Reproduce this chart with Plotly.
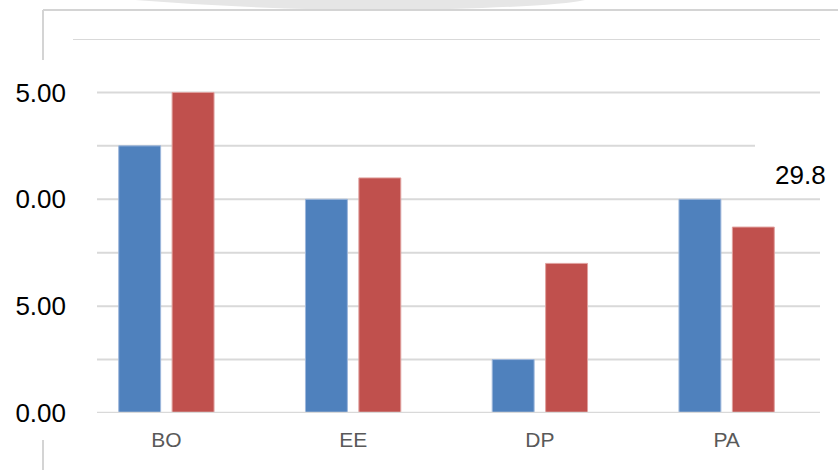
import plotly.graph_objects as go

categories = ["BO", "EE", "DP", "PA"]
series_blue = [12.5, 10.0, 2.5, 10.0]
series_red = [15.0, 11.0, 7.0, 8.7]
ytick_vals = [0, 2.5, 5, 7.5, 10, 12.5, 15]
ytick_text = ["0.00", "", "5.00", "", "0.00", "", "5.00"]
grid_vals = [2.5, 5, 7.5, 10, 12.5, 15]
extra_label = "29.8"

W, H = 838, 470
L, R, T, B = 73, 18, 39, 57
PW, PH = W - L - R, H - T - B


def px(x):
    return (x - L) / PW


def py(y):
    return (H - B - y) / PH


BLUE = "#4F81BD"
RED = "#C0504D"
GRID = "#d9d9d9"

fig = go.Figure()
fig.add_trace(go.Bar(x=categories, y=series_blue, marker=dict(color=BLUE, line=dict(color="#9db7dc", width=1)),
                     showlegend=False, hoverinfo="skip"))
fig.add_trace(go.Bar(x=categories, y=series_red, marker=dict(color=RED, line=dict(color="#e0a09e", width=1)),
                     showlegend=False, hoverinfo="skip"))

shapes = []
# top decorative shadow
shapes.append(dict(type="path", xref="paper", yref="paper",
                   path=f"M {px(135)},{py(0)} Q {px(300)},{py(13)} {px(450)},{py(9)} Q {px(560)},{py(6)} {px(585)},{py(0)} Z",
                   fillcolor="#e6e6e6", line=dict(width=0), layer="below"))
# frame lines
shapes.append(dict(type="line", xref="paper", yref="paper", x0=px(43), x1=px(838), y0=py(10), y1=py(10),
                   line=dict(color="#d4d4d4", width=2)))
shapes.append(dict(type="line", xref="paper", yref="paper", x0=px(43), x1=px(43), y0=py(10), y1=py(60),
                   line=dict(color="#d4d4d4", width=2)))
shapes.append(dict(type="line", xref="paper", yref="paper", x0=px(43), x1=px(43), y0=py(440), y1=py(470),
                   line=dict(color="#d4d4d4", width=2)))
# top gridline
shapes.append(dict(type="line", xref="paper", yref="y", x0=0, x1=1, y0=17.5, y1=17.5,
                   line=dict(color=GRID, width=2), layer="below"))
# gridlines
for g in grid_vals:
    shapes.append(dict(type="line", xref="paper", yref="y", x0=px(97), x1=1, y0=g, y1=g,
                       line=dict(color=GRID, width=2), layer="below"))
# baseline
shapes.append(dict(type="line", xref="paper", yref="y", x0=px(97), x1=1, y0=0, y1=0,
                   line=dict(color=GRID, width=2.5), layer="above"))
# white box behind label
shapes.append(dict(type="rect", xref="paper", yref="paper", x0=px(755), x1=px(845), y0=py(196), y1=py(140),
                   fillcolor="white", line=dict(width=0), layer="below"))

fig.update_layout(
    width=W, height=H,
    margin=dict(l=L, r=R, t=T, b=B, pad=0),
    paper_bgcolor="white", plot_bgcolor="white",
    barmode="group", bargap=0.428, bargroupgap=0.215,
    shapes=shapes,
    xaxis=dict(showgrid=False, showline=False, zeroline=False, ticks="",
               tickfont=dict(family="Liberation Sans Narrow, Liberation Sans, Arial", size=21, color="#595959"),
               ticklabelstandoff=12),
    yaxis=dict(range=[0, 17.5], tickvals=ytick_vals, ticktext=ytick_text, showgrid=False,
               zeroline=False, showline=False, ticks="",
               tickfont=dict(family="Liberation Sans, Arial", size=26, color="#000000"),
               ticklabelstandoff=6),
    annotations=[dict(text=extra_label, xref="paper", yref="paper", x=px(800), y=py(175),
                      xanchor="center", yanchor="middle", showarrow=False,
                      font=dict(family="Liberation Sans, Arial", size=26, color="#000000"))],
)

fig.write_html("out.html", config={"displayModeBar": False})
